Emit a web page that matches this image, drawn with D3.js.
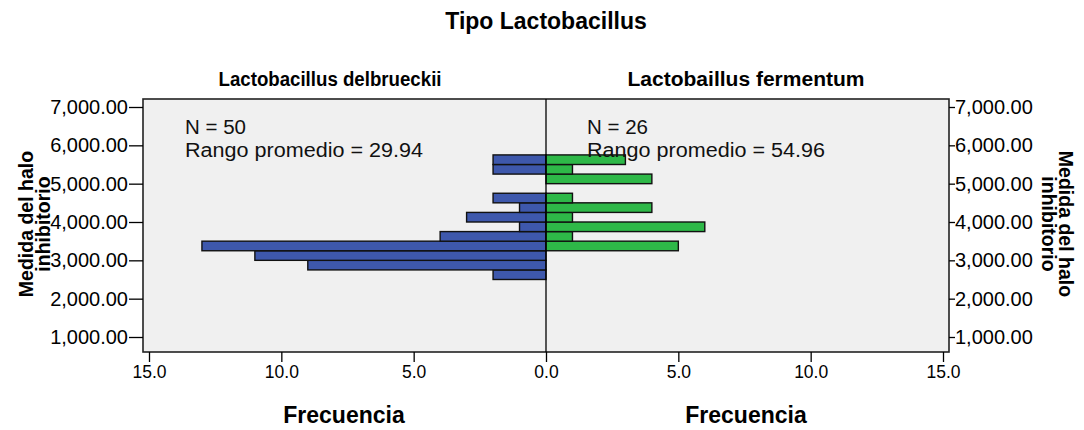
<!DOCTYPE html>
<html>
<head>
<meta charset="utf-8">
<script src="https://cdn.jsdelivr.net/npm/d3@7"></script>
<style>
  html, body { margin: 0; padding: 0; background: #fff; }
  svg { display: block; font-family: "Liberation Sans", Arial, sans-serif; }
  .tick text { fill: #000; }
  .tick line { stroke: #000; stroke-width: 1.3; }
</style>
</head>
<body>
<svg id="chart" width="1084" height="430"></svg>
<script>
// Histogram bins of the inhibition halo measurement (lower edges, width 250)
const binStarts = [2500, 2750, 3000, 3250, 3500, 3750, 4000, 4250, 4500, 4750, 5000, 5250, 5500];
const binWidth = 250;
// Frequencies per bin for each species
const delbrueckiiCounts = [2, 9, 11, 13, 4, 1, 3, 1, 2, 0, 0, 2, 2];
const fermentumCounts   = [0, 0, 0, 5, 1, 6, 1, 4, 1, 0, 4, 1, 3];
const groupNames = ["Lactobacillus delbrueckii", "Lactobaillus fermentum"];
const groupStats = [
  { n: 50, rank: "29.94" },
  { n: 26, rank: "54.96" }
];
const yTicks = [1000, 2000, 3000, 4000, 5000, 6000, 7000];
const xTicksLeft = [15, 10, 5, 0];
const xTicksRight = [5, 10, 15];

const svg = d3.select("#chart");
const frame = { left: 143, right: 949, top: 99, bottom: 352 };
const center = 546;

const y = d3.scaleLinear().domain([1000, 7000]).range([337, 107]);
const xL = d3.scaleLinear().domain([0, 15]).range([center, center - 397]);
const xR = d3.scaleLinear().domain([0, 15]).range([center, center + 397]);

// Panel background
svg.append("rect")
  .attr("x", frame.left).attr("y", frame.top)
  .attr("width", frame.right - frame.left).attr("height", frame.bottom - frame.top)
  .attr("fill", "#f0f0f0").attr("stroke", "#222").attr("stroke-width", 1.6);

const bins = binStarts.map((b, i) => ({ lo: b, hi: b + binWidth, d: delbrueckiiCounts[i], f: fermentumCounts[i] }));

// Left (delbrueckii) bars
svg.append("g").selectAll("rect")
  .data(bins.filter(b => b.d > 0))
  .join("rect")
  .attr("x", b => xL(b.d))
  .attr("y", b => y(b.hi))
  .attr("width", b => xL(0) - xL(b.d))
  .attr("height", b => y(b.lo) - y(b.hi))
  .attr("fill", "#3e58ac")
  .attr("stroke", "#111").attr("stroke-width", 1.4);

// Right (fermentum) bars
svg.append("g").selectAll("rect")
  .data(bins.filter(b => b.f > 0))
  .join("rect")
  .attr("x", xR(0))
  .attr("y", b => y(b.hi))
  .attr("width", b => xR(b.f) - xR(0))
  .attr("height", b => y(b.lo) - y(b.hi))
  .attr("fill", "#2eb848")
  .attr("stroke", "#111").attr("stroke-width", 1.4);

// Center divider
svg.append("line")
  .attr("x1", center).attr("x2", center)
  .attr("y1", frame.top).attr("y2", frame.bottom)
  .attr("stroke", "#000").attr("stroke-width", 1.3);

// Group annotations
[[185, 0], [587, 1]].forEach(([x, i]) => {
  const g = svg.append("g").attr("font-size", 20).attr("fill", "#111");
  g.append("text").attr("x", x).attr("y", 134)
    .attr("textLength", 61).attr("lengthAdjust", "spacingAndGlyphs")
    .text(`N = ${groupStats[i].n}`);
  g.append("text").attr("x", x).attr("y", 157)
    .attr("textLength", 238).attr("lengthAdjust", "spacingAndGlyphs")
    .text(`Rango promedio = ${groupStats[i].rank}`);
});

// Y axes
const fmtY = d3.format(",.2f");
const axL = svg.append("g").attr("transform", `translate(${frame.left},0)`)
  .call(d3.axisLeft(y).tickValues(yTicks).tickFormat(fmtY).tickSize(14).tickPadding(1));
const axR = svg.append("g").attr("transform", `translate(${frame.right},0)`)
  .call(d3.axisRight(y).tickValues(yTicks).tickFormat(fmtY).tickSize(6).tickPadding(0));
[axL, axR].forEach(a => {
  a.select(".domain").remove();
  a.selectAll("text").attr("font-size", 20).attr("fill", "#222");
});

// X axes
const fmtX = d3.format(".1f");
const axXL = svg.append("g").attr("transform", `translate(0,${frame.bottom})`)
  .call(d3.axisBottom(xL).tickValues(xTicksLeft).tickFormat(fmtX).tickSize(10).tickPadding(4));
const axXR = svg.append("g").attr("transform", `translate(0,${frame.bottom})`)
  .call(d3.axisBottom(xR).tickValues(xTicksRight).tickFormat(fmtX).tickSize(10).tickPadding(4));
[axXL, axXR].forEach(a => {
  a.select(".domain").remove();
  a.selectAll("text").attr("font-size", 17.5).attr("fill", "#222");
});

// Titles
svg.append("text").attr("x", 546).attr("y", 29)
  .attr("text-anchor", "middle").attr("font-weight", "bold").attr("font-size", 23)
  .text("Tipo Lactobacillus");
svg.append("text").attr("x", 330).attr("y", 86)
  .attr("text-anchor", "middle").attr("font-weight", "bold").attr("font-size", 20)
  .attr("textLength", 223).attr("lengthAdjust", "spacingAndGlyphs")
  .text(groupNames[0]);
svg.append("text").attr("x", 746).attr("y", 86)
  .attr("text-anchor", "middle").attr("font-weight", "bold").attr("font-size", 20)
  .attr("textLength", 237).attr("lengthAdjust", "spacingAndGlyphs")
  .text(groupNames[1]);

["Frecuencia", "Frecuencia"].forEach((t, i) => {
  svg.append("text").attr("x", i === 0 ? 344 : 746).attr("y", 423)
    .attr("text-anchor", "middle").attr("font-weight", "bold").attr("font-size", 23)
    .text(t);
});

// Y axis titles (two lines, rotated)
const yTitle = ["Medida del halo", "inhibitorio"];
const lt = svg.append("text")
  .attr("transform", "translate(34,224) rotate(-90)")
  .attr("text-anchor", "middle").attr("font-weight", "bold").attr("font-size", 19.5);
lt.append("tspan").attr("x", 0).attr("dy", -1).text(yTitle[0]);
lt.append("tspan").attr("x", 0).attr("dy", 17).text(yTitle[1]);

const rt = svg.append("text")
  .attr("transform", "translate(1058,224) rotate(90)")
  .attr("text-anchor", "middle").attr("font-weight", "bold").attr("font-size", 19.5);
rt.append("tspan").attr("x", 0).attr("dy", -1).text(yTitle[0]);
rt.append("tspan").attr("x", 0).attr("dy", 17).text(yTitle[1]);
</script>
</body>
</html>
